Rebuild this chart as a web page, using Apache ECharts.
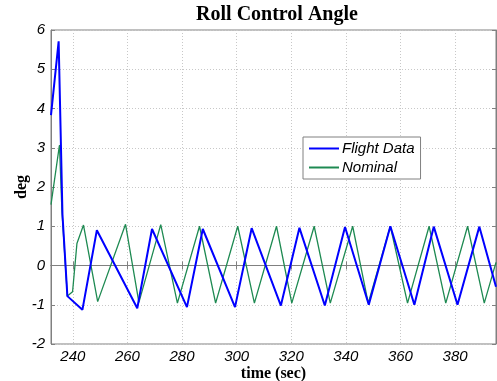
<!DOCTYPE html>
<html>
<head>
<meta charset="utf-8">
<script src="https://cdn.jsdelivr.net/npm/echarts@6/dist/echarts.min.js"></script>
<style>
  html, body { margin: 0; padding: 0; background: #fff; }
  #chart { width: 497px; height: 381px; }
</style>
</head>
<body>
<div id="chart"></div>
<script>
// values
const flightTime = [232, 234.8, 236.2, 238.0, 243.5, 248.8, 263.6, 269.0, 281.8, 287.6, 299.4, 305.5, 316.2, 323.0, 332.3, 339.7, 348.4, 356.3, 365.1, 372.2, 380.9, 388.9, 395];
const flightDeg = [3.83, 5.71, 1.3, -0.78, -1.13, 0.90, -1.09, 0.93, -1.06, 0.93, -1.06, 0.95, -1.02, 0.96, -1.02, 0.98, -1.0, 1.0, -1.0, 0.99, -1.0, 0.99, -0.54];

const nominalTime = [232, 235.1, 236.0, 238.0, 239.9, 241.5, 243.9, 249.1, 259.3, 264.2, 272.2, 278.3, 286.4, 292.3, 300.4, 306.5, 314.6, 320.2, 328.4, 334.3, 342.5, 348.2, 356.3, 362.6, 370.5, 376.6, 384.6, 390.7, 395];
const nominalDeg = [1.55, 3.07, 1.4, -0.78, -0.67, 0.56, 1.03, -0.92, 1.05, -0.94, 1.04, -0.96, 1.0, -0.96, 1.0, -0.96, 1.0, -0.96, 1.0, -0.96, 1.0, -0.96, 1.0, -0.96, 1.0, -0.96, 1.0, -0.96, 0.08];

const seriesNames = ['Flight Data', 'Nominal'];

const zip = (xs, ys) => xs.map((x, i) => [x, ys[i]]);

const axisGray = '#808080';
const gridLine = { show: true, lineStyle: { color: '#c8c8c8', type: [1, 2], width: 1 } };
const tickLabel = { color: '#000', fontFamily: 'Liberation Sans, Arial, sans-serif', fontStyle: 'italic', fontSize: 15 };
const serifBold = { fontFamily: 'Liberation Serif, Times New Roman, serif', fontWeight: 'bold', color: '#000' };

const chart = echarts.init(document.getElementById('chart'), null, { renderer: 'canvas' });

chart.setOption({
  animation: false,
  backgroundColor: '#fff',
  title: {
    text: 'Roll Control Angle',
    left: 272,
    textAlign: 'center',
    top: 0,
    textStyle: Object.assign({ fontSize: 20 }, serifBold),
  },
  grid: {
    left: 51, right: 1, top: 30, bottom: 37,
    outerBoundsMode: 'none',
    show: true, borderColor: axisGray, borderWidth: 1, backgroundColor: '#fff',
  },
  legend: {
    data: seriesNames,
    orient: 'vertical',
    left: 303,
    top: 137,
    itemWidth: 30,
    itemHeight: 14,
    itemGap: 4,
    padding: [4, 6, 4, 5],
    backgroundColor: '#fff',
    borderColor: axisGray,
    borderWidth: 1,
    borderRadius: 0,
    itemStyle: { opacity: 0 },
    textStyle: { fontFamily: 'Liberation Sans, Arial, sans-serif', fontStyle: 'italic', fontSize: 15, color: '#000', padding: [0, 0, 0, -2] },
  },
  xAxis: [
    {
      type: 'value',
      min: 232,
      max: 395,
      splitNumber: 8,
      minInterval: 20,
      maxInterval: 20,
      name: 'time (sec)',
      nameLocation: 'middle',
      nameMoveOverlap: false,
      nameGap: 22,
      nameTextStyle: Object.assign({ fontSize: 16 }, serifBold),
      axisLine: { show: true, lineStyle: { color: axisGray } },
      axisTick: { show: true, inside: true, length: 4, lineStyle: { color: axisGray } },
      axisLabel: Object.assign({ showMinLabel: false, showMaxLabel: false, margin: 5 }, tickLabel),
      splitLine: gridLine,
    },
    {
      type: 'value',
      position: 'top',
      min: 232,
      max: 395,
      splitNumber: 8,
      minInterval: 20,
      maxInterval: 20,
      axisLine: { show: true, lineStyle: { color: axisGray } },
      axisTick: { show: true, inside: true, length: 4, lineStyle: { color: axisGray } },
      axisLabel: { show: false },
      splitLine: { show: false },
    },
  ],
  yAxis: [
    {
      type: 'value',
      min: -2,
      max: 6,
      interval: 1,
      name: 'deg',
      nameLocation: 'middle',
      nameMoveOverlap: false,
      nameGap: 21,
      nameTextStyle: Object.assign({ fontSize: 16 }, serifBold),
      axisLine: { show: true, lineStyle: { color: axisGray } },
      axisTick: { show: true, inside: true, length: 4, lineStyle: { color: axisGray } },
      axisLabel: Object.assign({ margin: 6 }, tickLabel),
      splitLine: gridLine,
    },
    {
      type: 'value',
      position: 'right',
      min: -2,
      max: 6,
      interval: 1,
      axisLine: { show: true, lineStyle: { color: axisGray } },
      axisTick: { show: true, inside: true, length: 4, lineStyle: { color: axisGray } },
      axisLabel: { show: false },
      splitLine: { show: false },
    },
  ],
  series: [
    {
      name: seriesNames[0],
      type: 'line',
      data: zip(flightTime, flightDeg),
      symbol: 'none',
      z: 3,
      lineStyle: { color: '#0000ff', width: 2 },
      itemStyle: { color: '#0000ff' },
    },
    {
      name: seriesNames[1],
      type: 'line',
      data: zip(nominalTime, nominalDeg),
      symbol: 'none',
      z: 2,
      lineStyle: { color: '#1e8a52', width: 1.3 },
      itemStyle: { color: '#1e8a52' },
    },
  ],
});
</script>
</body>
</html>
